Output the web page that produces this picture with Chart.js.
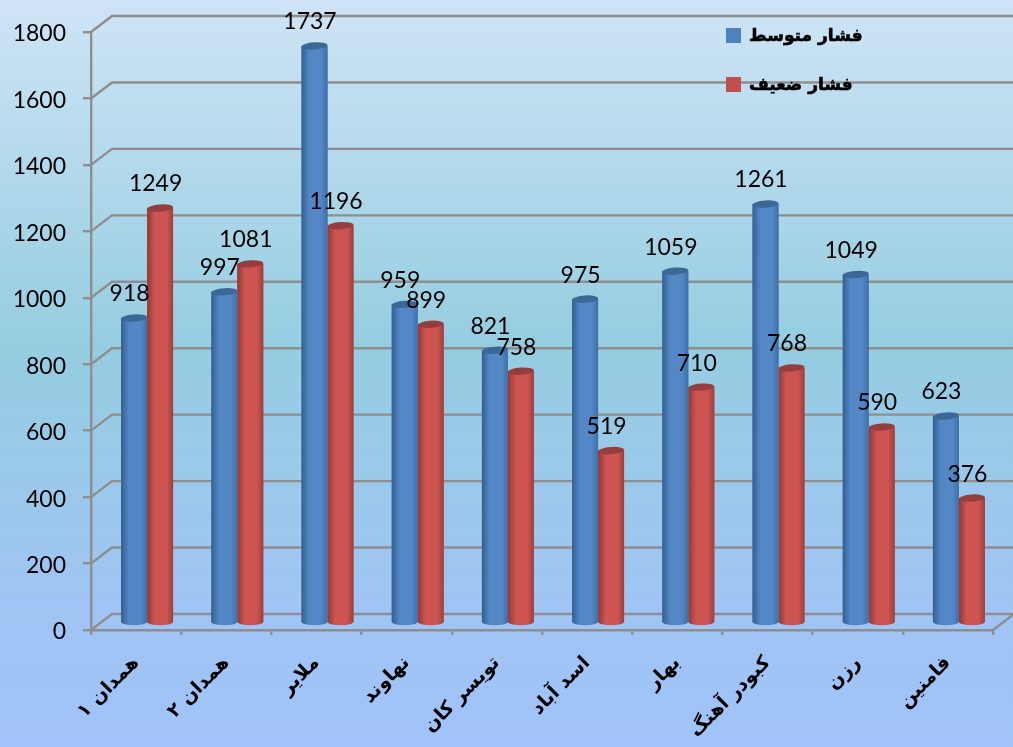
<!DOCTYPE html>
<html>
<head>
<meta charset="utf-8">
<style>
  html, body { margin: 0; padding: 0; background: #a1c3f8; overflow: hidden; }
  canvas { display: block; }
</style>
<script src="https://cdn.jsdelivr.net/npm/chart.js@4"></script>
</head>
<body>
<canvas id="myChart" width="1013" height="747"></canvas>
<script>
const cities = ["همدان ۱", "همدان ۲", "ملایر", "نهاوند", "تویسر کان", "اسد آباد", "بهار", "کبودر آهنگ", "رزن", "فامنین"];
const mediumPressure = [918, 997, 1737, 959, 821, 975, 1059, 1261, 1049, 623];
const lowPressure = [1249, 1081, 1196, 899, 758, 519, 710, 768, 590, 376];
const yTicks = [0, 200, 400, 600, 800, 1000, 1200, 1400, 1600, 1800];

const gray = "#8e8e8e";
const blue = { flat: "#4f81bd", edge: "#345f90", mid: "#5387c6", right: "#3f6fa6", top: "#3b6897" };
const red = { flat: "#c0504d", edge: "#8f3937", mid: "#cd5451", right: "#9a403e", top: "#943f3d" };

// depth of the fake 3d box
const depthX = 21;
const depthY = -16;

Chart.defaults.animation = false;

const fake3d = {
  id: "fake3d",
  beforeDraw(chart) {
    const c = chart.ctx;
    const g = c.createLinearGradient(0, 0, 0, chart.height);
    g.addColorStop(0, "#cfe4f6");
    g.addColorStop(0.46, "#95cde0");
    g.addColorStop(0.82, "#a0c4f4");
    g.addColorStop(1, "#a1c3f9");
    c.fillStyle = g;
    c.fillRect(0, 0, chart.width, chart.height);
  },
  beforeDatasetsDraw(chart) {
    const c = chart.ctx;
    const y = chart.scales.y;
    const a = chart.chartArea;
    c.save();
    c.strokeStyle = gray;
    c.lineWidth = 2.4;
    y.ticks.forEach(t => {
      const py = y.getPixelForValue(t.value);
      c.beginPath();
      c.moveTo(a.left, py);
      c.lineTo(a.left + depthX, py + depthY);
      c.lineTo(a.right + depthX, py + depthY);
      c.stroke();
    });
    const y0 = y.getPixelForValue(0);
    c.beginPath();
    c.moveTo(a.right, y0);
    c.lineTo(a.right + depthX, y0 + depthY);
    c.stroke();
    c.restore();
    // bars stand in the middle of the floor
    c.save();
    c.translate(11, -7);
  },
  afterDatasetDraw(chart, args) {
    const c = chart.ctx;
    const pal = args.index === 0 ? blue : red;
    args.meta.data.forEach(el => {
      const { x, y, base, width } = el.getProps(["x", "y", "base", "width"], true);
      const l = x - width / 2;
      const g = c.createLinearGradient(l, 0, l + width, 0);
      g.addColorStop(0, pal.edge);
      g.addColorStop(0.3, pal.mid);
      g.addColorStop(0.75, pal.mid);
      g.addColorStop(1, pal.right);
      c.fillStyle = g;
      c.fillRect(l, y, width, base - y);
      c.beginPath();
      c.ellipse(x, base, width / 2, 3.5, 0, 0, Math.PI * 2);
      c.fill();
      c.fillStyle = pal.top;
      c.beginPath();
      c.ellipse(x, y, width / 2, 3.6, -0.07, 0, Math.PI * 2);
      c.fill();
    });
  },
  afterDatasetsDraw(chart) {
    const c = chart.ctx;
    c.fillStyle = "#000";
    c.font = "23px Lato";
    c.textAlign = "center";
    c.textBaseline = "middle";
    chart.data.datasets.forEach((ds, i) => {
      chart.getDatasetMeta(i).data.forEach((el, j) => {
        const p = el.getProps(["x", "y"], true);
        c.fillText(ds.data[j], p.x - 4.5, p.y - 24);
      });
    });
    c.restore();

    // legend
    c.save();
    c.direction = "rtl";
    c.textAlign = "left";
    c.textBaseline = "middle";
    c.font = "bold 17px 'DejaVu Sans'";
    c.strokeStyle = "#000";
    c.lineWidth = 0.6;
    chart.data.datasets.forEach((ds, i) => {
      const ly = 35.5 + i * 49;
      c.fillStyle = ds.backgroundColor;
      c.fillRect(726, ly - 7.5, 15, 15);
      c.fillStyle = "#000";
      c.fillText(ds.label, 749, ly + 1);
      c.strokeText(ds.label, 749, ly + 1);
    });
    c.restore();
  },
};

const ctx = document.querySelector("#myChart").getContext("2d");

const myChart = new Chart(ctx, {
  type: "bar",
  data: {
    labels: cities,
    datasets: [
      { label: "فشار متوسط", data: mediumPressure, backgroundColor: blue.flat },
      { label: "فشار ضعیف", data: lowPressure, backgroundColor: red.flat },
    ],
  },
  options: {
    responsive: false,
    layout: { padding: { top: 32, right: 20, left: 0, bottom: 0 } },
    categoryPercentage: 0.576,
    barPercentage: 1,
    plugins: { legend: { display: false }, tooltip: { enabled: false } },
    scales: {
      x: {
        afterFit(s) { s.height = 117; },
        border: { color: gray, width: 2.4 },
        grid: { drawOnChartArea: false, color: gray, lineWidth: 2.4, tickLength: 5 },
        ticks: {
          autoSkip: false,
          minRotation: 45,
          maxRotation: 45,
          padding: 17,
          color: "#000",
          font: { family: "'DejaVu Sans'", weight: "bold", size: 19 },
        },
      },
      y: {
        min: 0,
        max: 1800,
        afterFit(s) { s.width = 91; },
        afterBuildTicks(s) { s.ticks = yTicks.map(v => ({ value: v })); },
        border: { color: gray, width: 2.4 },
        grid: { drawOnChartArea: false, color: gray, lineWidth: 2.4, tickLength: 8 },
        ticks: {
          padding: 17,
          labelOffset: 2,
          color: "#000",
          font: { family: "Lato", size: 23 },
          callback: v => String(v),
        },
      },
    },
  },
  plugins: [fake3d],
});
</script>
</body>
</html>
